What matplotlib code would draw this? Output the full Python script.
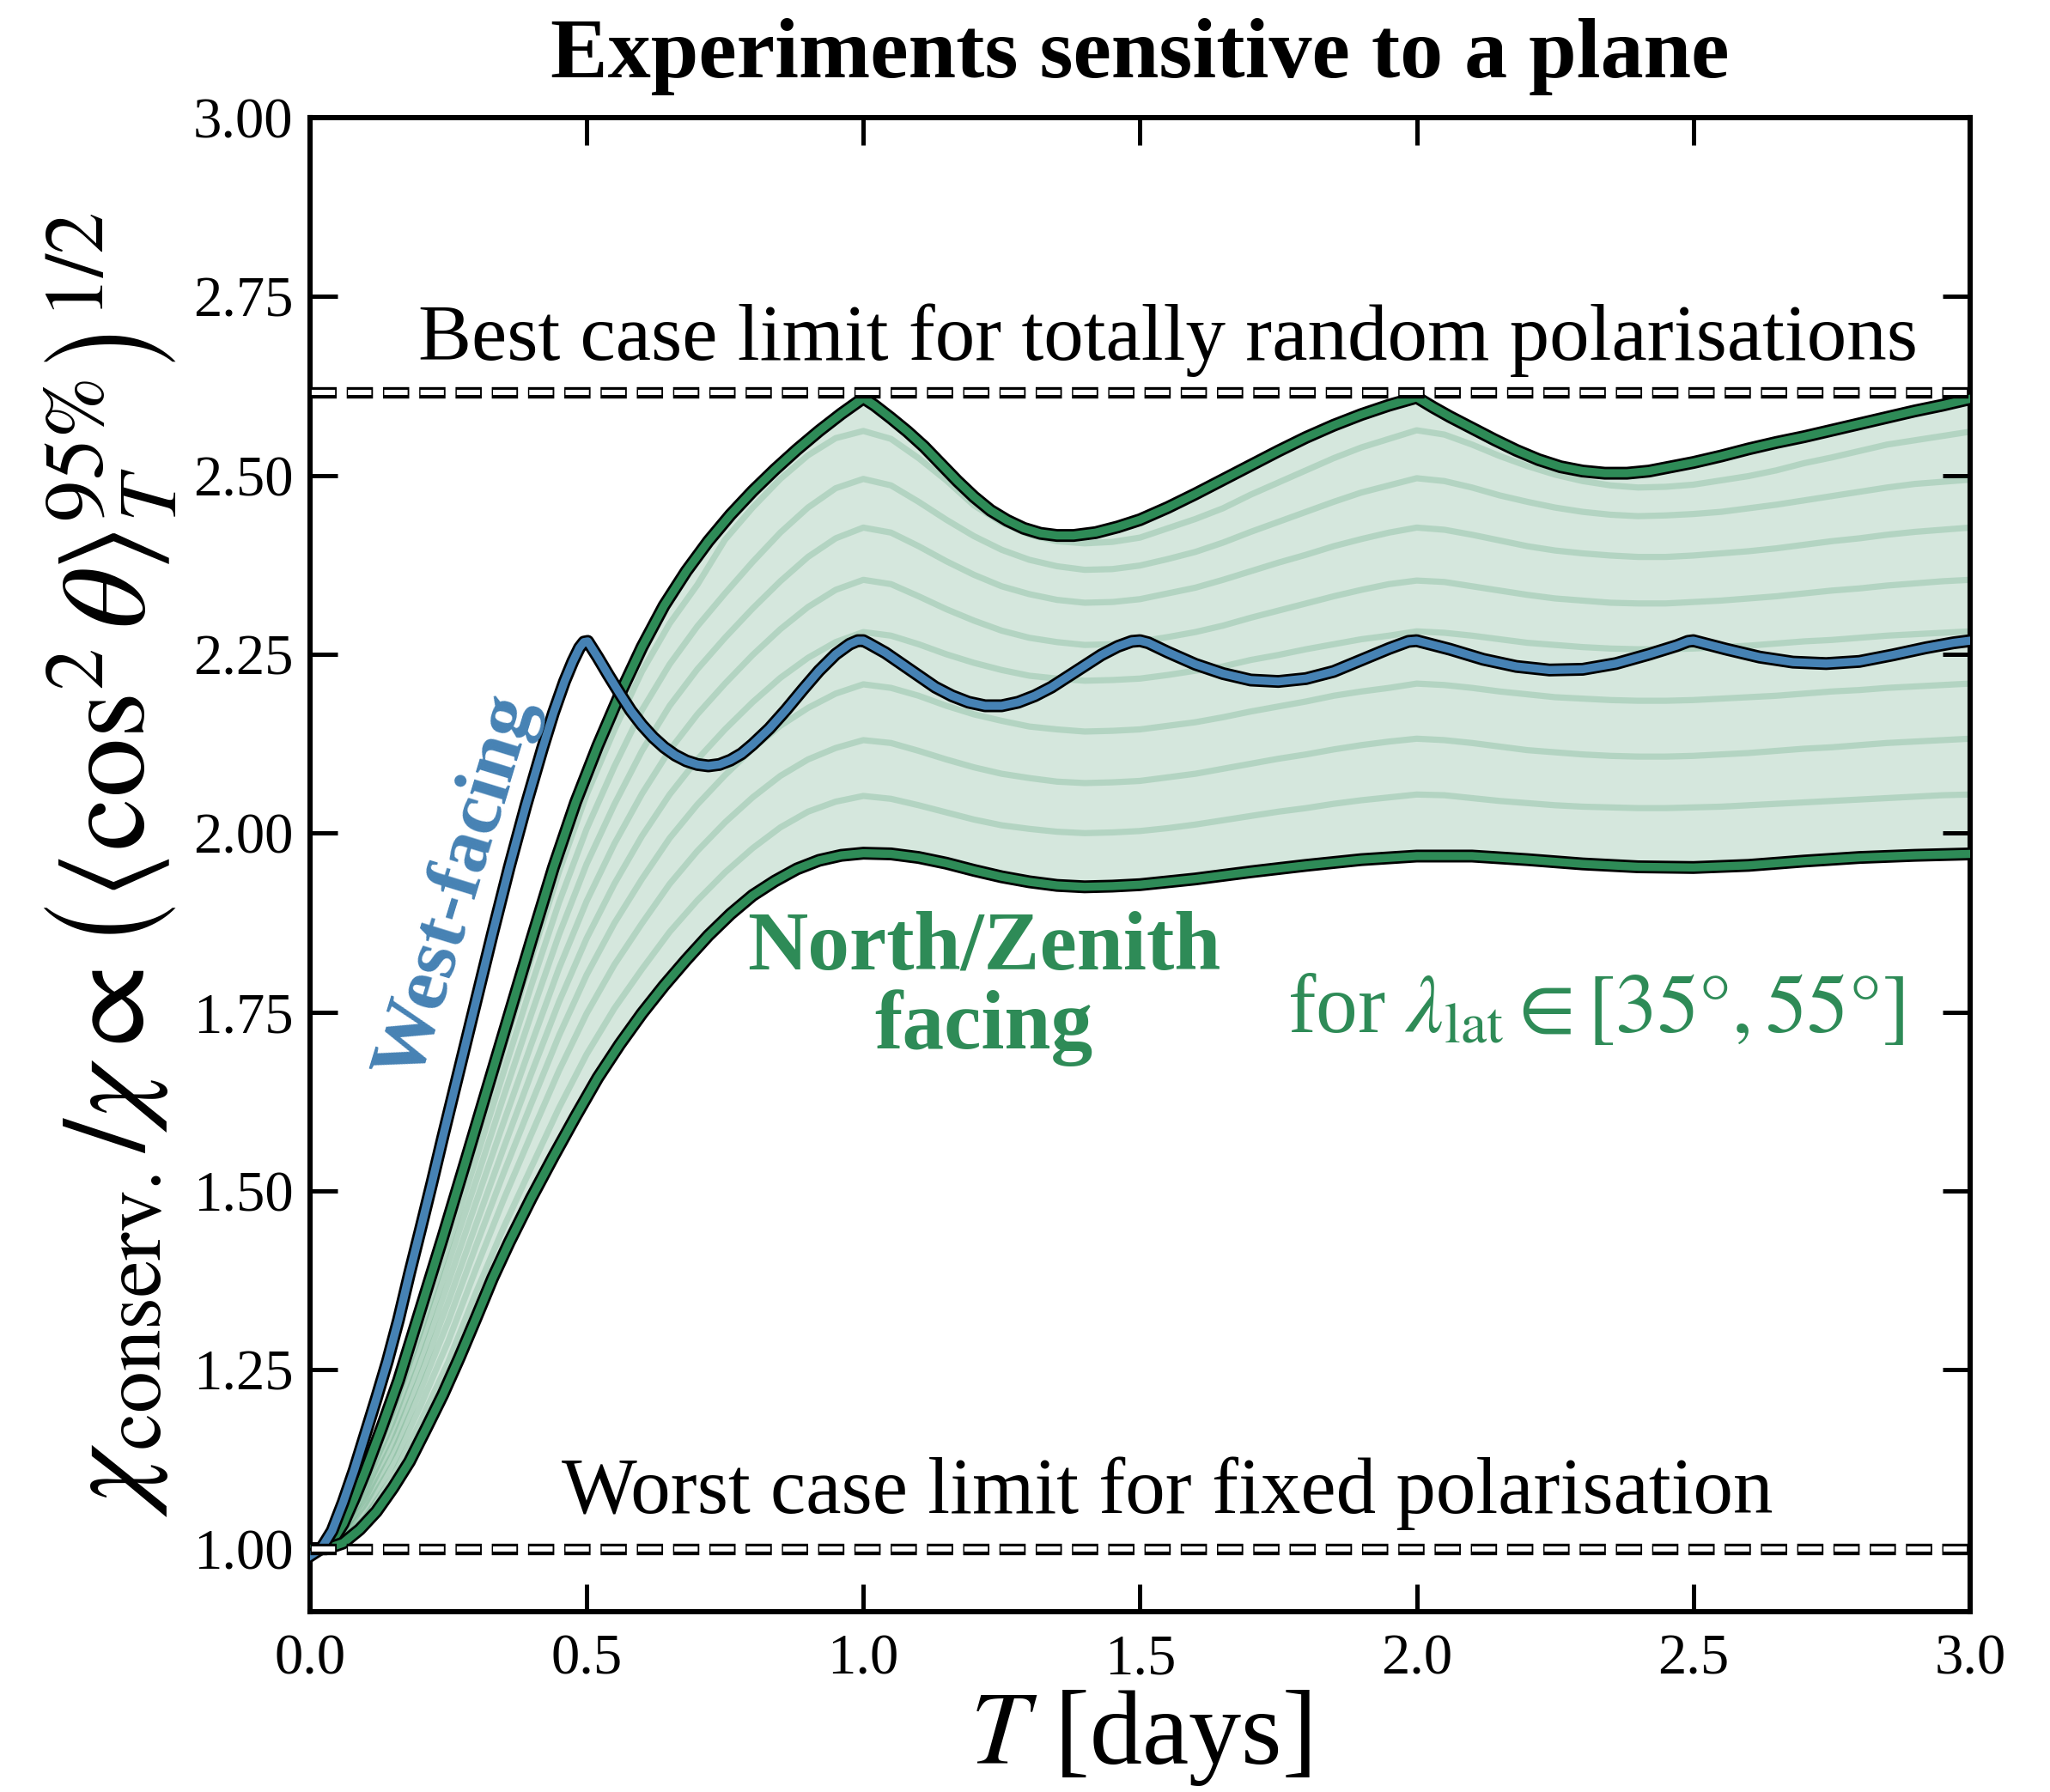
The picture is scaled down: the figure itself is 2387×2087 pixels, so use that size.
import matplotlib
matplotlib.use("Agg")
import matplotlib.pyplot as plt
import matplotlib.patheffects as pe

plt.rcParams['font.family'] = ['Liberation Serif', 'DejaVu Serif']
plt.rcParams['mathtext.fontset'] = 'stix'
plt.rcParams['lines.scale_dashes'] = False

# ---------------- data ----------------
T_upper = [0.0, 0.02, 0.04, 0.06, 0.08, 0.10, 0.13, 0.16, 0.20, 0.24, 0.28, 0.32, 0.36,
           0.40, 0.44, 0.48, 0.52, 0.56, 0.60, 0.64, 0.68, 0.72, 0.76, 0.80, 0.84, 0.88,
           0.92, 0.96, 1.0, 1.02, 1.05, 1.08, 1.11, 1.14, 1.17, 1.20, 1.23, 1.26, 1.29,
           1.32, 1.35, 1.38, 1.42, 1.46, 1.50, 1.55, 1.60, 1.65, 1.70, 1.75, 1.80, 1.85,
           1.90, 1.95, 2.0, 2.03, 2.06, 2.10, 2.14, 2.18, 2.22, 2.26, 2.30, 2.34, 2.38,
           2.42, 2.46, 2.50, 2.55, 2.60, 2.65, 2.70, 2.75, 2.80, 2.85, 2.90, 2.95, 3.0]
V_upper = [1.0, 1.0, 1.01, 1.035, 1.07, 1.108, 1.17, 1.235, 1.335, 1.435, 1.538, 1.642,
           1.746, 1.85, 1.952, 2.043, 2.122, 2.194, 2.26, 2.318, 2.366, 2.408, 2.445, 2.478,
           2.508, 2.536, 2.562, 2.586, 2.608, 2.598, 2.58, 2.561, 2.54, 2.516, 2.492, 2.47,
           2.451, 2.437, 2.426, 2.419, 2.416, 2.416, 2.42, 2.428, 2.438, 2.455, 2.474, 2.494,
           2.514, 2.534, 2.553, 2.57, 2.585, 2.598, 2.609, 2.595, 2.582, 2.566, 2.55, 2.535,
           2.522, 2.512, 2.506, 2.503, 2.503, 2.506, 2.512, 2.518, 2.527, 2.537, 2.546,
           2.554, 2.563, 2.572, 2.581, 2.59, 2.598, 2.607]

T_lower = [0.0, 0.03, 0.06, 0.09, 0.12, 0.15, 0.18, 0.21, 0.24, 0.27, 0.30, 0.33, 0.36,
           0.40, 0.44, 0.48, 0.52, 0.56, 0.60, 0.64, 0.68, 0.72, 0.76, 0.80, 0.84, 0.88,
           0.92, 0.96, 1.0, 1.05, 1.10, 1.15, 1.20, 1.25, 1.30, 1.35, 1.40, 1.45, 1.50,
           1.60, 1.70, 1.80, 1.90, 2.0, 2.1, 2.2, 2.3, 2.4, 2.5, 2.6, 2.7, 2.8, 2.9, 3.0]
V_lower = [1.0, 1.0, 1.008, 1.027, 1.052, 1.085, 1.122, 1.168, 1.215, 1.267, 1.322, 1.378,
           1.428, 1.49, 1.548, 1.604, 1.658, 1.705, 1.748, 1.787, 1.823, 1.857, 1.887, 1.913,
           1.933, 1.95, 1.962, 1.969, 1.972, 1.971, 1.966, 1.958, 1.948, 1.939, 1.932, 1.927,
           1.925, 1.926, 1.928, 1.936, 1.946, 1.955, 1.963, 1.968, 1.968, 1.963, 1.957,
           1.953, 1.952, 1.955, 1.961, 1.966, 1.969, 1.971]

T_west = [0.0, 0.02, 0.04, 0.06, 0.08, 0.10, 0.12, 0.14, 0.16, 0.18, 0.20, 0.22, 0.24,
          0.27, 0.30, 0.33, 0.36, 0.39, 0.42, 0.44, 0.46, 0.475, 0.487, 0.495, 0.502, 0.52,
          0.54, 0.56, 0.58, 0.60, 0.62, 0.64, 0.66, 0.68, 0.70, 0.72, 0.74, 0.76, 0.78,
          0.80, 0.83, 0.86, 0.89, 0.92, 0.95, 0.975, 0.99, 1.0, 1.01, 1.04, 1.07, 1.10,
          1.13, 1.16, 1.19, 1.22, 1.25, 1.28, 1.31, 1.34, 1.37, 1.40, 1.43, 1.46, 1.485,
          1.5, 1.515, 1.55, 1.6, 1.65, 1.70, 1.75, 1.80, 1.85, 1.90, 1.95, 1.985, 2.0,
          2.015, 2.06, 2.12, 2.18, 2.24, 2.30, 2.36, 2.42, 2.47, 2.49, 2.5, 2.51, 2.56,
          2.62, 2.68, 2.74, 2.80, 2.86, 2.92, 2.97, 3.0]
V_west = [0.99, 1.0, 1.025, 1.065, 1.11, 1.16, 1.21, 1.262, 1.32, 1.385, 1.447, 1.51,
          1.575, 1.67, 1.765, 1.86, 1.952, 2.038, 2.118, 2.168, 2.212, 2.24, 2.259, 2.267,
          2.268, 2.246, 2.22, 2.195, 2.171, 2.151, 2.134, 2.12, 2.109, 2.101, 2.096, 2.094,
          2.096, 2.102, 2.111, 2.124, 2.146, 2.172, 2.2, 2.227, 2.25, 2.264, 2.269, 2.269,
          2.265, 2.252, 2.236, 2.22, 2.204, 2.192, 2.183, 2.178, 2.178, 2.183, 2.192,
          2.204, 2.219, 2.234, 2.249, 2.261, 2.268, 2.269, 2.266, 2.253, 2.236, 2.223,
          2.214, 2.212, 2.216, 2.226, 2.242, 2.258, 2.268, 2.269, 2.266, 2.257, 2.243,
          2.233, 2.228, 2.229, 2.237, 2.25, 2.262, 2.268, 2.269, 2.267, 2.257, 2.246,
          2.239, 2.237, 2.24, 2.249, 2.259, 2.266, 2.269]

T_grid = [0.0, 0.05, 0.1, 0.15, 0.2, 0.25, 0.3, 0.35, 0.4, 0.45, 0.5, 0.55, 0.6, 0.65,
          0.7, 0.75, 0.8, 0.85, 0.9, 0.95, 1.0, 1.05, 1.1, 1.15, 1.2, 1.25, 1.3, 1.35,
          1.4, 1.45, 1.5, 1.55, 1.6, 1.65, 1.7, 1.75, 1.8, 1.85, 1.9, 1.95, 2.0, 2.05,
          2.1, 2.15, 2.2, 2.25, 2.3, 2.35, 2.4, 2.45, 2.5, 2.55, 2.6, 2.65, 2.7, 2.75,
          2.8, 2.85, 2.9, 2.95, 3.0]
lat_line_1 = [1.0, 1.019, 1.105, 1.206, 1.322, 1.449, 1.571, 1.698, 1.825, 1.946, 2.054,
              2.144, 2.226, 2.293, 2.347, 2.41, 2.455, 2.495, 2.528, 2.552,
              2.562, 2.551, 2.524, 2.493, 2.458, 2.434, 2.417, 2.408, 2.405, 2.407, 2.413,
              2.426, 2.439, 2.454, 2.473, 2.490, 2.507, 2.524, 2.539, 2.551,
              2.563, 2.557, 2.543, 2.527, 2.513, 2.501, 2.492, 2.486, 2.483, 2.484, 2.487,
              2.493, 2.499, 2.507, 2.517, 2.525, 2.534, 2.543, 2.549, 2.555, 2.561]
lat_line_2 = [1.0, 1.017, 1.097, 1.192, 1.304, 1.424, 1.544, 1.666, 1.787, 1.903, 2.006,
              2.093, 2.172, 2.236, 2.289, 2.335, 2.379, 2.42, 2.455, 2.482,
              2.495, 2.486, 2.463, 2.438, 2.415, 2.396, 2.382, 2.373, 2.368, 2.369, 2.374,
              2.383, 2.393, 2.406, 2.421, 2.435, 2.449, 2.463, 2.476, 2.486,
              2.496, 2.492, 2.483, 2.472, 2.463, 2.455, 2.449, 2.445, 2.443, 2.444, 2.446,
              2.449, 2.454, 2.459, 2.465, 2.471, 2.477, 2.483, 2.488, 2.491, 2.494]
lat_line_3 = [1.0, 1.015, 1.089, 1.178, 1.284, 1.399, 1.514, 1.632, 1.747, 1.858, 1.957,
              2.04, 2.115, 2.178, 2.229, 2.273, 2.314, 2.352, 2.386, 2.412,
              2.427, 2.420, 2.401, 2.380, 2.361, 2.345, 2.334, 2.326, 2.322, 2.323, 2.327,
              2.335, 2.343, 2.354, 2.366, 2.378, 2.389, 2.401, 2.411, 2.420,
              2.427, 2.424, 2.417, 2.409, 2.401, 2.395, 2.391, 2.388, 2.386, 2.386, 2.388,
              2.391, 2.394, 2.398, 2.403, 2.408, 2.412, 2.417, 2.421, 2.424, 2.427]
lat_line_4 = [1.0, 1.013, 1.08, 1.163, 1.263, 1.372, 1.484, 1.596, 1.705, 1.811, 1.905,
              1.985, 2.055, 2.116, 2.166, 2.209, 2.249, 2.285, 2.316, 2.340,
              2.354, 2.348, 2.331, 2.313, 2.297, 2.283, 2.273, 2.267, 2.263, 2.264, 2.268,
              2.274, 2.281, 2.290, 2.301, 2.311, 2.321, 2.331, 2.340, 2.348,
              2.353, 2.351, 2.345, 2.339, 2.333, 2.328, 2.325, 2.322, 2.321, 2.321, 2.323,
              2.325, 2.328, 2.331, 2.335, 2.339, 2.342, 2.346, 2.349, 2.352, 2.354]
lat_line_5 = [1.0, 1.011, 1.071, 1.148, 1.242, 1.345, 1.453, 1.56, 1.664, 1.764, 1.853,
              1.929, 1.996, 2.054, 2.103, 2.145, 2.183, 2.217, 2.245, 2.267,
              2.281, 2.276, 2.264, 2.250, 2.238, 2.228, 2.220, 2.216, 2.213, 2.214, 2.216,
              2.221, 2.227, 2.233, 2.242, 2.249, 2.257, 2.264, 2.271, 2.276,
              2.282, 2.280, 2.276, 2.271, 2.266, 2.263, 2.260, 2.258, 2.257, 2.257, 2.258,
              2.260, 2.262, 2.265, 2.268, 2.270, 2.273, 2.276, 2.278, 2.280, 2.282]
lat_line_6 = [1.0, 1.009, 1.063, 1.133, 1.222, 1.318, 1.423, 1.525, 1.622, 1.717, 1.802,
              1.874, 1.936, 1.993, 2.04, 2.081, 2.118, 2.150, 2.175, 2.195,
              2.208, 2.203, 2.192, 2.178, 2.166, 2.157, 2.149, 2.145, 2.142, 2.143, 2.145,
              2.150, 2.155, 2.162, 2.170, 2.177, 2.184, 2.192, 2.198, 2.203,
              2.209, 2.207, 2.203, 2.198, 2.194, 2.190, 2.188, 2.186, 2.185, 2.185, 2.186,
              2.188, 2.190, 2.192, 2.195, 2.198, 2.200, 2.203, 2.205, 2.207, 2.209]
lat_line_7 = [1.0, 1.007, 1.054, 1.118, 1.2, 1.29, 1.391, 1.488, 1.579, 1.668, 1.748,
              1.816, 1.874, 1.929, 1.975, 2.015, 2.05, 2.08, 2.103, 2.119,
              2.130, 2.126, 2.115, 2.103, 2.092, 2.083, 2.077, 2.072, 2.070, 2.071, 2.073,
              2.078, 2.083, 2.090, 2.097, 2.104, 2.110, 2.117, 2.123, 2.128,
              2.132, 2.130, 2.126, 2.121, 2.116, 2.113, 2.110, 2.108, 2.107, 2.107, 2.108,
              2.110, 2.112, 2.115, 2.118, 2.120, 2.123, 2.126, 2.128, 2.130, 2.132]
lat_line_8 = [1.0, 1.005, 1.044, 1.101, 1.178, 1.261, 1.358, 1.449, 1.533, 1.616, 1.691,
              1.755, 1.81, 1.862, 1.906, 1.945, 1.979, 2.008, 2.03, 2.044,
              2.052, 2.048, 2.039, 2.029, 2.019, 2.011, 2.006, 2.002, 2.000, 2.001, 2.003,
              2.007, 2.012, 2.018, 2.024, 2.030, 2.035, 2.041, 2.046, 2.050,
              2.054, 2.053, 2.049, 2.045, 2.042, 2.039, 2.037, 2.036, 2.035, 2.035, 2.036,
              2.037, 2.039, 2.041, 2.043, 2.045, 2.047, 2.049, 2.051, 2.053, 2.054]

best_case = 2.616
worst_case = 1.0
x_ticks = [0.0, 0.5, 1.0, 1.5, 2.0, 2.5, 3.0]
x_ticklabels = ['0.0', '0.5', '1.0', '1.5', '2.0', '2.5', '3.0']
y_ticks = [1.00, 1.25, 1.50, 1.75, 2.00, 2.25, 2.50, 2.75, 3.00]
y_ticklabels = ['1.00', '1.25', '1.50', '1.75', '2.00', '2.25', '2.50', '2.75', '3.00']

# ---------------- figure ----------------
GREEN = 'seagreen'
BLUE = 'steelblue'

fig = plt.figure(figsize=(2387 / 200, 2087 / 200), dpi=200)
ax = fig.add_axes([0.1512, 0.1006, 0.8098, 0.8338])

# shaded band
ax.fill(list(T_upper) + list(T_lower[::-1]), list(V_upper) + list(V_lower[::-1]),
        color=GREEN, alpha=0.2, lw=0, zorder=1)
for line in [lat_line_1, lat_line_2, lat_line_3, lat_line_4,
             lat_line_5, lat_line_6, lat_line_7, lat_line_8]:
    ax.plot(T_grid, line, color=GREEN, alpha=0.2, lw=2.6, zorder=2)

outline = [pe.Stroke(linewidth=5.4, foreground='k'), pe.Normal()]
ax.plot(T_upper, V_upper, color=GREEN, lw=3.4, zorder=3, path_effects=outline)
ax.plot(T_lower, V_lower, color=GREEN, lw=3.4, zorder=3, path_effects=outline)
ax.plot(T_west, V_west, color=BLUE, lw=3.4, zorder=4, path_effects=outline)

# limit lines (double dashed look)
for yv in [best_case, worst_case]:
    ax.axhline(yv, color='k', lw=4.8, linestyle=(0, (11.0, 4.2)), zorder=5,
               dash_capstyle='butt')
    ax.axhline(yv, color='white', lw=2.2, linestyle=(14.5, (9.8, 5.4)), zorder=6,
               dash_capstyle='butt')

ax.text(1.55, 2.661, 'Best case limit for totally random polarisations',
        ha='center', va='baseline', fontsize=33.5, zorder=7)
ax.text(1.55, 1.050, 'Worst case limit for fixed polarisation',
        ha='center', va='baseline', fontsize=33.5, zorder=7)

ax.text(0.267, 1.924, 'West-facing', color=BLUE, fontsize=33, fontweight='bold',
        rotation=73, ha='center', va='center', rotation_mode='anchor', zorder=7)
ax.text(1.218, 1.81, 'North/Zenith', color=GREEN, fontsize=35, fontweight='bold',
        ha='center', va='baseline', zorder=7)
ax.text(1.218, 1.699, 'facing', color=GREEN, fontsize=35, fontweight='bold',
        ha='center', va='baseline', zorder=7)
ax.text(2.324, 1.722, r'for $\lambda_{\rm lat} \in [35°, 55°]$', color=GREEN,
        fontsize=35, ha='center', va='baseline', zorder=7)

ax.set_xlim(0, 3)
ax.set_ylim(0.912, 3.0)
ax.set_xticks(x_ticks)
ax.set_xticklabels(x_ticklabels)
ax.set_yticks(y_ticks)
ax.set_yticklabels(y_ticklabels)
ax.tick_params(direction='in', length=11.5, width=1.8, labelsize=24,
               top=True, right=True, pad=7)
ax.tick_params(axis='x', pad=9)
for s in ax.spines.values():
    s.set_linewidth(2.2)

ax.set_xlabel(r'$T$ [days]', fontsize=44, labelpad=1)
ax.set_ylabel(r'$\chi_{\rm conserv.}/\chi \propto \left(\langle \cos^2{\theta} \rangle_T^{95\%}\right)^{1/2}$',
              fontsize=50, labelpad=6)
ax.set_title('Experiments sensitive to a plane', fontsize=36, fontweight='bold', pad=17)

fig.savefig('out.png', dpi=200)
